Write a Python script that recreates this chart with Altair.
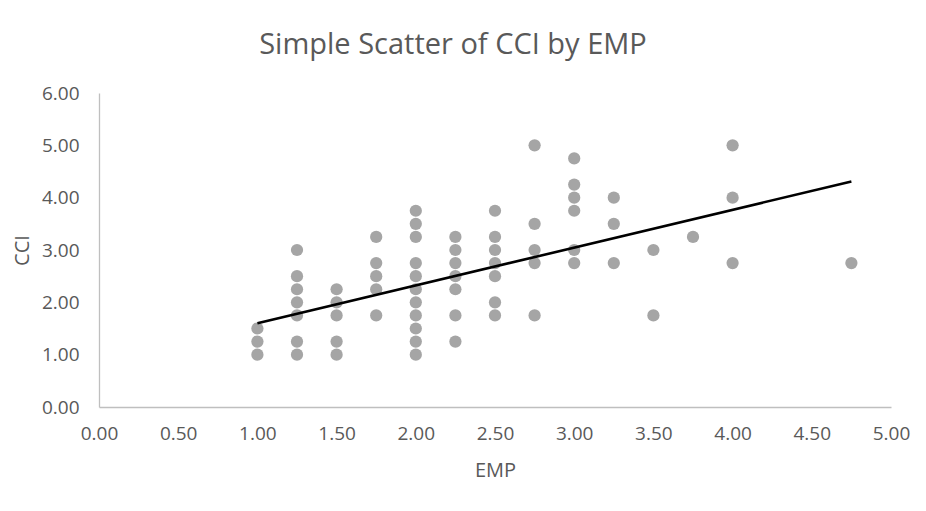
import altair as alt
import pandas as pd

emp = ([1.0]*3 + [1.25]*7 + [1.5]*5 + [1.75]*5 + [2.0]*11 + [2.25]*7 + [2.5]*7
       + [2.75]*5 + [3.0]*6 + [3.25]*3 + [3.5]*2 + [3.75]*1 + [4.0]*3 + [4.75]*1)
cci = ([1.0, 1.25, 1.5]
       + [3.0, 2.5, 2.25, 2.0, 1.75, 1.25, 1.0]
       + [2.25, 2.0, 1.75, 1.25, 1.0]
       + [3.25, 2.75, 2.5, 2.25, 1.75]
       + [3.75, 3.5, 3.25, 2.75, 2.5, 2.25, 2.0, 1.75, 1.5, 1.25, 1.0]
       + [3.25, 3.0, 2.75, 2.5, 2.25, 1.75, 1.25]
       + [3.75, 3.25, 3.0, 2.75, 2.5, 2.0, 1.75]
       + [5.0, 3.5, 3.0, 2.75, 1.75]
       + [4.75, 4.25, 4.0, 3.75, 3.0, 2.75]
       + [4.0, 3.5, 2.75]
       + [3.0, 1.75]
       + [3.25]
       + [5.0, 4.0, 2.75]
       + [2.75])
trend_x = [1.0, 4.75]
trend_y = [1.60, 4.31]

x_ticks = [0, 0.5, 1, 1.5, 2, 2.5, 3, 3.5, 4, 4.5, 5]
y_ticks = [0, 1, 2, 3, 4, 5, 6]

pts = pd.DataFrame({"EMP": emp, "CCI": cci})
trend = pd.DataFrame({"EMP": trend_x, "CCI": trend_y})

FONT = "Open Sans"
GRAY = "#595959"

xenc = alt.X("EMP:Q", scale=alt.Scale(domain=[0, 5], nice=False),
             axis=alt.Axis(values=x_ticks, format=".2f", title="EMP", grid=False,
                           ticks=False, domainColor="#bfbfbf", domainWidth=1.3,
                           labelFlush=False, labelOverlap=False, labelBound=False,
                           labelColor=GRAY, labelFontSize=19, labelFont=FONT,
                           labelPadding=17, titleColor=GRAY, titleFontSize=20,
                           titleFont=FONT, titleFontWeight="normal", titlePadding=17))
yenc = alt.Y("CCI:Q", scale=alt.Scale(domain=[0, 6], nice=False),
             axis=alt.Axis(values=y_ticks, format=".2f", title="CCI", grid=False,
                           ticks=False, domainColor="#bfbfbf", domainWidth=1.3,
                           labelFlush=False, labelOverlap=False, labelBound=False,
                           labelColor=GRAY, labelFontSize=19, labelFont=FONT,
                           labelPadding=20, titleColor=GRAY, titleFontSize=20,
                           titleFont=FONT, titleFontWeight="normal", titlePadding=9))

points = alt.Chart(pts).mark_circle(size=150, color="#a5a5a5", opacity=1).encode(x=xenc, y=yenc)
line = alt.Chart(trend).mark_line(color="#000000", strokeWidth=2.6).encode(x="EMP:Q", y="CCI:Q")

chart = (points + line).properties(
    width=792, height=314,
    title=alt.TitleParams("Simple Scatter of CCI by EMP", fontSize=29, font=FONT,
                          fontWeight="normal", color=GRAY, offset=24, dx=-42),
    autosize=alt.AutoSizeParams(type="none"),
    padding={"left": 91, "top": 85, "right": 20, "bottom": 80},
).configure_view(stroke=None)

chart.save("out.html", embed_options={"renderer": "svg", "actions": False})
